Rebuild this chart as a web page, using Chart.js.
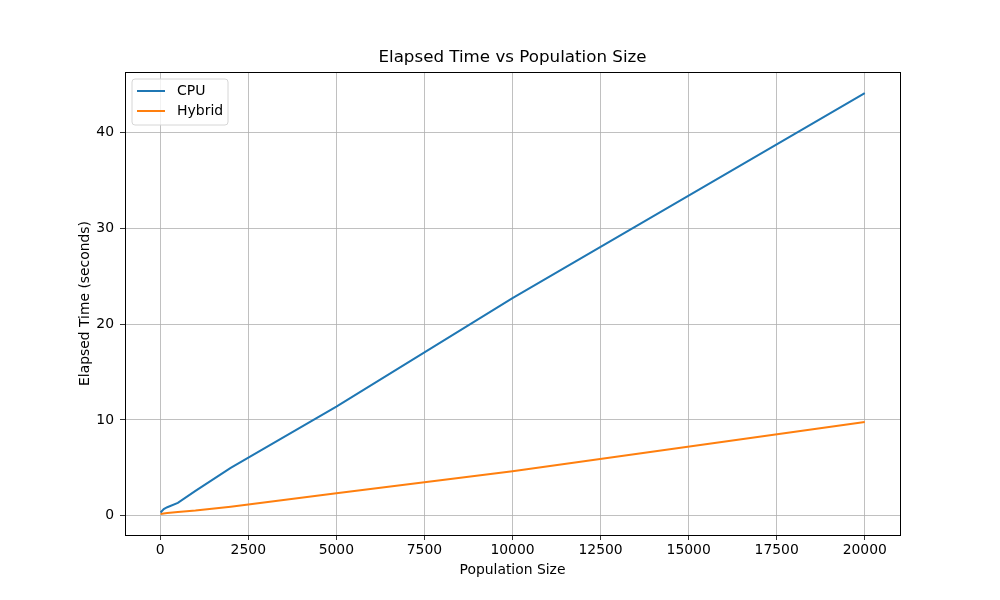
<!DOCTYPE html>
<html>
<head>
<meta charset="utf-8">
<script src="https://cdn.jsdelivr.net/npm/chart.js@4"></script>
<style>
  body { margin: 0; background: #fff; }
</style>
</head>
<body>
<canvas id="elapsed_plot" width="1000" height="600"></canvas>
<script>
'use strict';

// values
const popSize   = [10, 100, 200, 500, 1000, 2000, 5000, 10000, 20000];
const cpuTime   = [0.35, 0.7, 0.9, 1.35, 2.6, 5.0, 11.4, 22.7, 44.1];
const hybridTime = [0.2, 0.25, 0.3, 0.4, 0.55, 0.95, 2.35, 4.65, 9.8];
const xTicks = [0, 2500, 5000, 7500, 10000, 12500, 15000, 17500, 20000];
const yTicks = [0, 10, 20, 30, 40];
const chartTitle = 'Elapsed Time vs Population Size';

const FONT = 'DejaVu Sans';

function pairs(xs, ys) {
    return xs.map((x, i) => ({x: x, y: ys[i]}));
}

// legend box inside the axes, upper left, like matplotlib
const legendBox = {
    id: 'legendBox',
    afterDraw(chart) {
        const ctx = chart.ctx;
        const area = chart.chartArea;
        const x0 = area.left + 7, y0 = area.top + 7;
        const w = 96, h = 46;
        ctx.save();
        ctx.beginPath();
        ctx.roundRect(x0, y0, w, h, 3);
        ctx.fillStyle = 'rgba(255,255,255,0.8)';
        ctx.fill();
        ctx.strokeStyle = '#d6d6d6';
        ctx.lineWidth = 1;
        ctx.stroke();
        ctx.font = '14px ' + FONT;
        ctx.textBaseline = 'middle';
        chart.data.datasets.forEach((ds, i) => {
            const y = y0 + 12 + i * 20;
            ctx.beginPath();
            ctx.moveTo(x0 + 5, y);
            ctx.lineTo(x0 + 33, y);
            ctx.strokeStyle = ds.borderColor;
            ctx.lineWidth = 2;
            ctx.stroke();
            ctx.fillStyle = '#000';
            ctx.fillText(ds.label, x0 + 45, y);
        });
        ctx.restore();
    }
};

// full black frame around the axes, and the title centred over them
const frame = {
    id: 'frame',
    afterDraw(chart) {
        const ctx = chart.ctx;
        const a = chart.chartArea;
        ctx.save();
        ctx.strokeStyle = '#000';
        ctx.lineWidth = 1;
        ctx.strokeRect(Math.round(a.left) + 0.5, Math.round(a.top) + 0.5,
            Math.round(a.right - a.left), Math.round(a.bottom - a.top));
        ctx.font = '16.7px ' + FONT;
        ctx.fillStyle = '#000';
        ctx.textAlign = 'center';
        ctx.textBaseline = 'middle';
        ctx.fillText(chartTitle, (a.left + a.right) / 2, a.top - 14);
        ctx.restore();
    }
};

const plainTick = (v) => String(v);

const elapsed_plot = new Chart('elapsed_plot', {
    type: 'line',
    data: {
        datasets: [{
            label: 'CPU',
            data: pairs(popSize, cpuTime),
            borderColor: '#1f77b4',
            borderWidth: 2,
            pointRadius: 0,
            fill: false
        }, {
            label: 'Hybrid',
            data: pairs(popSize, hybridTime),
            borderColor: '#ff7f0e',
            borderWidth: 2,
            pointRadius: 0,
            fill: false
        }]
    },
    options: {
        responsive: false,
        animation: false,
        layout: {padding: {left: 0, right: 100, top: 72, bottom: 0}},
        plugins: {
            legend: {display: false},
            tooltip: {enabled: false},
            title: {display: false}
        },
        scales: {
            x: {
                type: 'linear',
                min: -1000,
                max: 21000,
                afterBuildTicks: (scale) => { scale.ticks = xTicks.map(v => ({value: v})); },
                afterFit: (scale) => { scale.height = 65; },
                ticks: {
                    autoSkip: false, maxRotation: 0, padding: 2, callback: plainTick,
                    color: '#000', font: {family: FONT, size: 13.9}
                },
                grid: {color: '#b0b0b0', lineWidth: 0.8, tickColor: '#000', tickLength: 5},
                border: {color: '#000', width: 1},
                title: {
                    display: true, text: 'Population Size', color: '#000',
                    font: {family: FONT, size: 13.9}, padding: {top: 0, bottom: 21}
                }
            },
            y: {
                type: 'linear',
                min: -2.0,
                max: 46.3,
                afterBuildTicks: (scale) => { scale.ticks = yTicks.map(v => ({value: v})); },
                afterFit: (scale) => { scale.width = 125; },
                ticks: {
                    autoSkip: false, padding: 6, callback: plainTick,
                    color: '#000', font: {family: FONT, size: 13.9}
                },
                grid: {color: '#b0b0b0', lineWidth: 0.8, tickColor: '#000', tickLength: 5},
                border: {color: '#000', width: 1},
                title: {
                    display: true, text: 'Elapsed Time (seconds)', color: '#000',
                    font: {family: FONT, size: 13.9}, padding: {top: 77, bottom: 0}
                }
            }
        }
    },
    plugins: [legendBox, frame]
});
</script>
</body>
</html>
